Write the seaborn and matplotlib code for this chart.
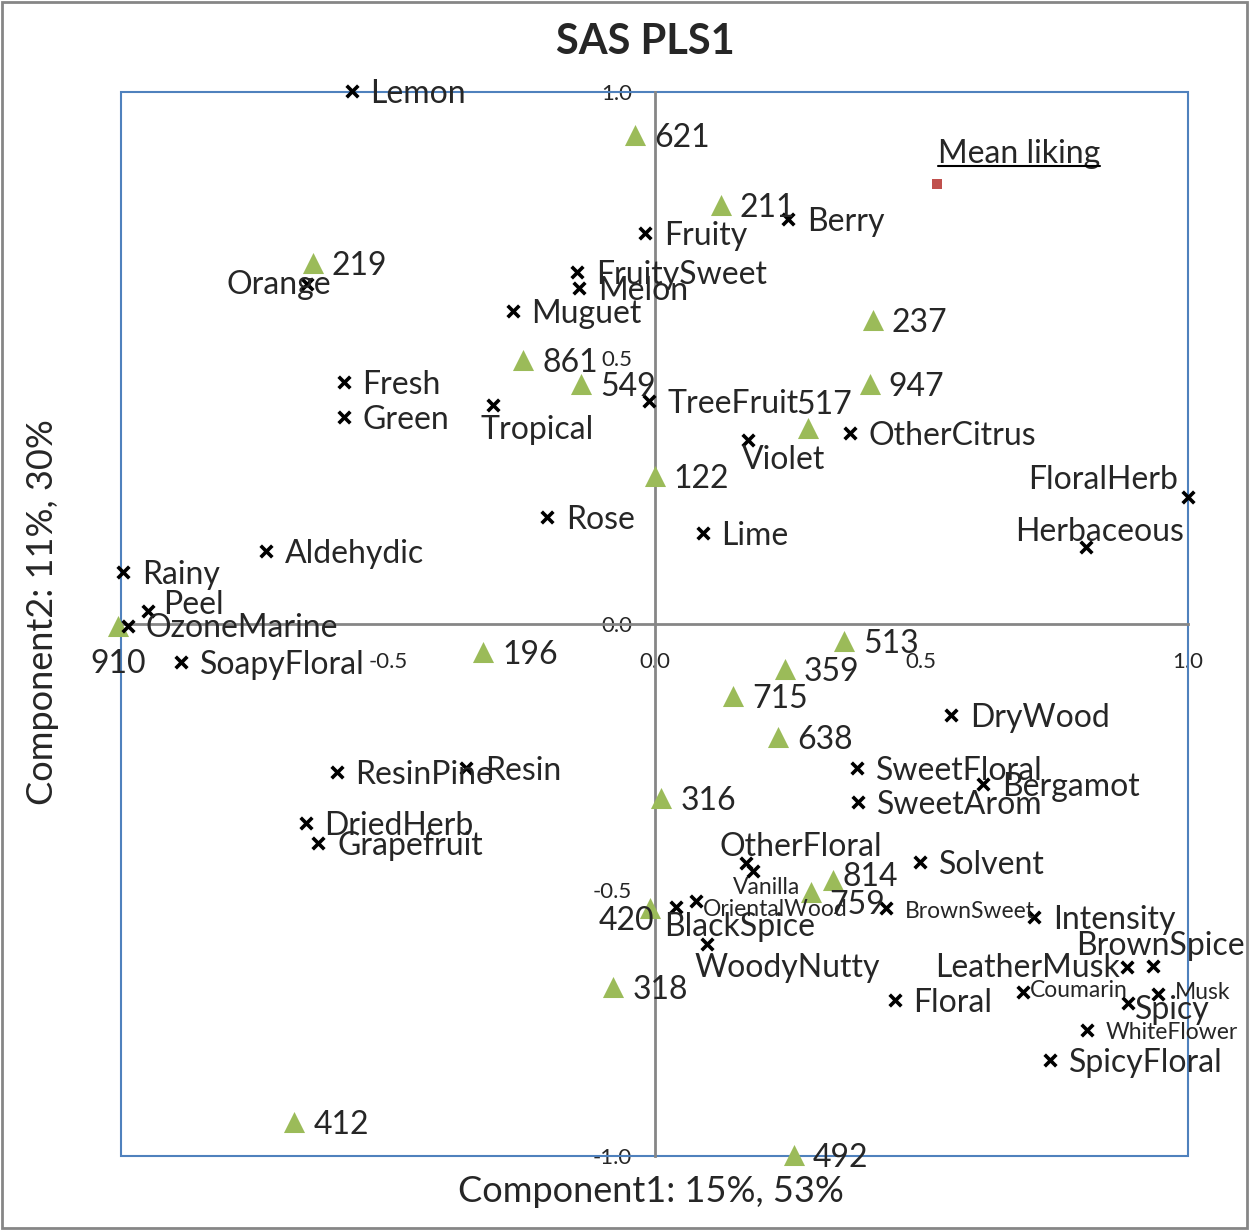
import matplotlib
matplotlib.use('Agg')
import matplotlib.pyplot as plt
import seaborn as sns
import pandas as pd
from matplotlib.patches import Rectangle
from matplotlib.lines import Line2D

# attributes (x markers)
attr_names = ['Lemon', 'Berry', 'Fruity', 'FruitySweet', 'Melon', 'Orange', 'Muguet',
              'Fresh', 'Green', 'Tropical', 'TreeFruit', 'OtherCitrus', 'Violet',
              'FloralHerb', 'Herbaceous', 'Rose', 'Lime', 'Aldehydic', 'Rainy', 'Peel',
              'OzoneMarine', 'SoapyFloral', 'DryWood', 'SweetFloral', 'Bergamot',
              'SweetArom', 'ResinPine', 'Resin', 'DriedHerb', 'Grapefruit', 'OtherFloral',
              'Vanilla', 'Solvent', 'BlackSpice', 'OrientalWood', 'WoodyNutty',
              'BrownSweet', 'Intensity', 'LeatherMusk', 'BrownSpice', 'Coumarin', 'Musk',
              'Spicy', 'WhiteFlower', 'SpicyFloral', 'Floral']
attr_x = [-0.568, 0.251, -0.017, -0.146, -0.141, -0.652, -0.266,
          -0.583, -0.583, -0.302, -0.011, 0.366, 0.176,
          0.999, 0.808, -0.201, 0.090, -0.729, -0.997, -0.950,
          -0.986, -0.888, 0.555, 0.379, 0.615,
          0.381, -0.596, -0.354, -0.654, -0.630, 0.171,
          0.184, 0.497, 0.041, 0.077, 0.099,
          0.433, 0.712, 0.885, 0.935, 0.690, 0.943,
          0.887, 0.810, 0.742, 0.450]
attr_y = [1.002, 0.761, 0.735, 0.662, 0.632, 0.639, 0.588,
          0.455, 0.389, 0.412, 0.419, 0.359, 0.346,
          0.239, 0.145, 0.201, 0.171, 0.137, 0.098, 0.024,
          -0.004, -0.071, -0.171, -0.271, -0.301,
          -0.335, -0.278, -0.271, -0.374, -0.412, -0.449,
          -0.464, -0.447, -0.532, -0.521, -0.602,
          -0.534, -0.551, -0.645, -0.643, -0.692, -0.695,
          -0.712, -0.763, -0.820, -0.707]

# products (triangles)
prod_names = ['621', '211', '219', '237', '861', '549', '947', '517', '122', '910',
              '196', '513', '359', '715', '638', '316', '814', '759', '420', '318',
              '412', '492']
prod_x = [-0.037, 0.124, -0.641, 0.409, -0.246, -0.137, 0.403, 0.287, 0.000, -1.005,
          -0.321, 0.356, 0.244, 0.148, 0.231, 0.013, 0.334, 0.294, -0.009, -0.077,
          -0.675, 0.261]
prod_y = [0.919, 0.788, 0.679, 0.571, 0.496, 0.451, 0.451, 0.368, 0.278, -0.004,
          -0.053, -0.032, -0.085, -0.135, -0.212, -0.327, -0.481, -0.504, -0.534, -0.682,
          -0.936, -0.998]

mean_x = [0.529]
mean_y = [0.827]

small_labels = ['Vanilla', 'OrientalWood', 'BrownSweet', 'Coumarin', 'Musk', 'WhiteFlower']

# label offsets in pixels (dx, dy, ha)
offsets = {
    'Orange': (24, -1, 'right'), 'Tropical': (-13, -25, 'left'), 'Violet': (-7, -20, 'left'),
    'FloralHerb': (-10, 17, 'right'), 'Herbaceous': (14, 15, 'center'), 'Peel': (15, 6, 'left'),
    'OzoneMarine': (17, -2, 'left'), '910': (0, -38, 'center'), '517': (-11, 23, 'left'),
    'OtherFloral': (-26, 16, 'left'), 'Vanilla': (-20, -17, 'left'),
    'OrientalWood': (7, -8, 'left'), 'BlackSpice': (-12, -20, 'left'), '420': (5, -13, 'right'),
    'WoodyNutty': (-13, -24, 'left'), '759': (18, -13, 'left'), '814': (10, 3, 'left'),
    'BrownSpice': (7, 20, 'center'), 'LeatherMusk': (-7, -1, 'right'), 'Coumarin': (7, 2, 'left'),
    'Musk': (17, 1, 'left'), 'Spicy': (7, -7, 'left'),
}

sns.set_style('white')
plt.rcParams['font.family'] = ['Lato', 'DejaVu Sans']
plt.rcParams['axes.unicode_minus'] = False

attrs = pd.DataFrame({'x': attr_x, 'y': attr_y, 'name': attr_names})
prods = pd.DataFrame({'x': prod_x, 'y': prod_y, 'name': prod_names})

fig = plt.figure(figsize=(12.49, 12.30), dpi=100)
ax = fig.add_axes([0.0969, 0.0602, 0.8543, 0.865])

sns.scatterplot(data=prods, x='x', y='y', marker='^', color='#9BBB59', s=230,
                linewidth=0, ax=ax, zorder=3)
sns.scatterplot(data=attrs, x='x', y='y', marker='x', color='black', s=70,
                linewidth=2.6, ax=ax, zorder=4)
sns.scatterplot(x=mean_x, y=mean_y, marker='s', color='#C0504D', s=50, linewidth=0,
                ax=ax, zorder=4)
for c in ax.collections:
    c.set_clip_on(False)

def put(name, x, y, size):
    dx, dy, ha = offsets.get(name, (19, -3, 'left'))
    return ax.annotate(name, (x, y), xytext=(dx, dy), textcoords='offset pixels',
                       ha=ha, va='center', fontsize=size, zorder=5, annotation_clip=False)

for n, x, y in zip(attr_names, attr_x, attr_y):
    put(n, x, y, 16.5 if n in small_labels else 23)
for n, x, y in zip(prod_names, prod_x, prod_y):
    put(n, x, y, 23)
ml = ax.annotate('Mean liking', (mean_x[0], mean_y[0]), xytext=(1, 30),
                 textcoords='offset pixels', ha='left', va='center', fontsize=23, zorder=5)

ax.set_xlim(-1, 1)
ax.set_ylim(-1, 1)
ax.set_xlabel('')
ax.set_ylabel('')

# axes crossing at origin, Excel style
for s in ['left', 'bottom']:
    ax.spines[s].set_position('zero')
    ax.spines[s].set_color('#868686')
    ax.spines[s].set_linewidth(2)
for s in ['top', 'right']:
    ax.spines[s].set_visible(False)
ax.add_patch(Rectangle((0, 0), 1, 1, transform=ax.transAxes, fill=False,
                       edgecolor='#4F81BD', linewidth=1.5, zorder=1, clip_on=False))

ax.set_xticks([-1.0, -0.5, 0.0, 0.5, 1.0])
ax.set_xticklabels(['', '-0.5', '0.0', '0.5', '1.0'])
ax.set_yticks([-1.0, -0.5, 0.0, 0.5, 1.0])
ax.set_yticklabels(['-1.0', '-0.5', '0.0', '0.5', '1.0'])
ax.tick_params(axis='x', direction='out', length=6, width=1.5, color='#868686',
               labelsize=16, pad=14)
ax.tick_params(axis='y', direction='out', length=6, width=1.5, color='#868686',
               labelsize=16, pad=10)

fig.text(0.517, 0.966, 'SAS PLS1', ha='center', va='center', fontsize=30, fontweight='bold')
fig.text(0.521, 0.031, 'Component1: 15%, 53%', ha='center', va='center', fontsize=26)
fig.text(0.034, 0.502, 'Component2: 11%, 30%', ha='center', va='center', fontsize=26,
         rotation=90)

fig.patches.append(Rectangle((0.002, 0.002), 0.996, 0.996, transform=fig.transFigure,
                             fill=False, edgecolor='#868686', linewidth=2))

# underline for Mean liking
fig.canvas.draw()
bb = ml.get_window_extent()
fig.lines.append(Line2D([bb.x0, bb.x1], [bb.y0 + 3, bb.y0 + 3], transform=None,
                        color='black', linewidth=1.5))

fig.savefig('out.png', dpi=100)
